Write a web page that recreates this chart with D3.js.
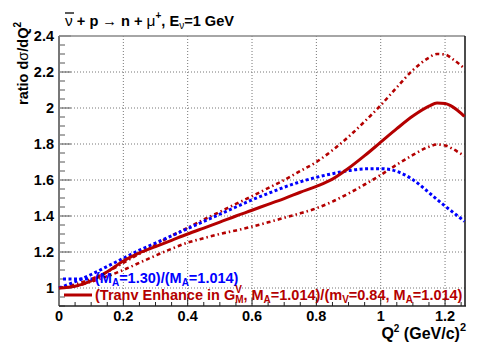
<!DOCTYPE html>
<html><head><meta charset="utf-8">
<script src="https://cdn.jsdelivr.net/npm/d3@7"></script>
<style>body{margin:0;background:#fff}svg{display:block}text{font-family:"Liberation Sans",Arial,sans-serif;font-weight:bold}</style>
</head><body><svg id="c" width="485" height="360"></svg>
<script>
const q2 = [0,0.05,0.1,0.15,0.2,0.25,0.3,0.35,0.4,0.45,0.5,0.55,0.6,0.65,0.7,0.75,0.8,0.85,0.9,0.95,1.0,1.05,1.1,1.15,1.175,1.2,1.225,1.25,1.26];
const central = [1.0,1.01,1.04,1.09,1.15,1.195,1.23,1.265,1.3,1.333,1.366,1.4,1.432,1.465,1.497,1.532,1.565,1.605,1.665,1.735,1.81,1.885,1.955,2.01,2.028,2.025,2.005,1.97,1.953];
const upper = [1.0,1.02,1.05,1.09,1.14,1.19,1.24,1.29,1.335,1.38,1.423,1.467,1.51,1.555,1.60,1.65,1.70,1.765,1.84,1.925,2.015,2.115,2.21,2.28,2.3,2.297,2.27,2.235,2.22];
const lower = [1.0,1.01,1.035,1.065,1.10,1.14,1.18,1.218,1.252,1.277,1.30,1.32,1.341,1.365,1.39,1.415,1.443,1.48,1.525,1.575,1.628,1.685,1.739,1.785,1.797,1.792,1.772,1.745,1.735];
const maRatio = [1.0,1.035,1.075,1.12,1.165,1.21,1.25,1.29,1.33,1.37,1.41,1.45,1.49,1.525,1.56,1.59,1.615,1.635,1.652,1.662,1.663,1.648,1.602,1.53,1.492,1.455,1.42,1.385,1.37];
const xTicks = [0,0.2,0.4,0.6,0.8,1,1.2];
const yTicks = [1,1.2,1.4,1.6,1.8,2,2.2,2.4];
const xTickLabels = ["0","0.2","0.4","0.6","0.8","1","1.2"];
const yTickLabels = ["1","1.2","1.4","1.6","1.8","2","2.2","2.4"];

const svg = d3.select("#c");
const L=59,R=465,T=36,B=306;
const x = d3.scaleLinear().domain([0,1.262]).range([L,R]);
const y = d3.scaleLinear().domain([0.9,2.4]).range([B,T]);
const RED="#b40000", BLUE="#0000ff";

// grid
svg.append("g").selectAll("line").data(xTicks.slice(1)).join("line")
  .attr("x1",d=>x(d)).attr("x2",d=>x(d)).attr("y1",T).attr("y2",B)
  .attr("stroke","#777").attr("stroke-width",1).attr("stroke-dasharray","1,2");
svg.append("g").selectAll("line").data(yTicks.slice(0,-1)).join("line")
  .attr("y1",d=>y(d)).attr("y2",d=>y(d)).attr("x1",L).attr("x2",R)
  .attr("stroke","#777").attr("stroke-width",1).attr("stroke-dasharray","1,2");

// minor/major ticks
const xMinor = d3.range(0,1.2601,0.05);
svg.append("g").selectAll("line").data(xMinor).join("line")
  .attr("x1",d=>x(d)).attr("x2",d=>x(d)).attr("y1",B)
  .attr("y2",(d,i)=> i%4===0 ? B-8 : B-4)
  .attr("stroke","#222").attr("stroke-width",1);
const yMinor = d3.range(0.9,2.4001,0.05);
svg.append("g").selectAll("line").data(yMinor).join("line")
  .attr("y1",d=>y(d)).attr("y2",d=>y(d)).attr("x1",L)
  .attr("x2",d=> Math.abs((d*10)%2 - 0) < 0.01 || Math.abs((d*10)%2-2)<0.01 ? L+12 : L+6)
  .attr("stroke","#555").attr("stroke-width",1);

// frame
svg.append("line").attr("x1",L).attr("x2",R).attr("y1",T).attr("y2",T).attr("stroke","#888").attr("stroke-width",1.5);
svg.append("line").attr("x1",R).attr("x2",R).attr("y1",T).attr("y2",B).attr("stroke","#111").attr("stroke-width",1.5);
svg.append("line").attr("x1",L).attr("x2",L).attr("y1",T).attr("y2",B).attr("stroke","#777").attr("stroke-width",2);
svg.append("line").attr("x1",L).attr("x2",R+1).attr("y1",B).attr("y2",B).attr("stroke","#222").attr("stroke-width",1.5);

// tick labels
svg.append("g").selectAll("text").data(xTicks).join("text")
  .attr("x",d=>x(d)).attr("y",321).attr("text-anchor","middle").attr("font-size",14.5)
  .text((d,i)=>xTickLabels[i]);
svg.append("g").selectAll("text").data(yTicks).join("text")
  .attr("x",54).attr("y",d=>y(d)+5).attr("text-anchor","end").attr("font-size",14.5)
  .text((d,i)=>yTickLabels[i]);

// curves
const line = d3.line().x((d,i)=>x(q2[i])).y(d=>y(d)).curve(d3.curveMonotoneX);
const plot = svg.append("g");
plot.append("path").attr("d",line(upper)).attr("fill","none").attr("stroke",RED).attr("stroke-width",2.6).attr("stroke-dasharray","4,3,1.5,3");
plot.append("path").attr("d",line(lower)).attr("fill","none").attr("stroke",RED).attr("stroke-width",2.6).attr("stroke-dasharray","4,3,1.5,3");
plot.append("path").attr("d",line(maRatio)).attr("fill","none").attr("stroke",BLUE).attr("stroke-width",3).attr("stroke-dasharray","3,2.5");
plot.append("path").attr("d",line(central)).attr("fill","none").attr("stroke",RED).attr("stroke-width",3);

// legend
svg.append("line").attr("x1",63).attr("x2",92).attr("y1",279).attr("y2",279).attr("stroke",BLUE).attr("stroke-width",3).attr("stroke-dasharray","3,2.5");
svg.append("line").attr("x1",64).attr("x2",92).attr("y1",295).attr("y2",295).attr("stroke",RED).attr("stroke-width",3);
const t1 = svg.append("text").attr("x",95).attr("y",283).attr("font-size",14.5).attr("fill",BLUE);
t1.append("tspan").text("(M");
t1.append("tspan").attr("font-size",10).attr("dy",2.5).text("A");
t1.append("tspan").attr("dy",-2.5).text("=1.30)/(M");
t1.append("tspan").attr("font-size",10).attr("dy",2.5).text("A");
t1.append("tspan").attr("dy",-2.5).text("=1.014)");
const t2 = svg.append("text").attr("x",95).attr("y",300).attr("font-size",14.5).attr("fill",RED);
t2.append("tspan").text("(Tranv Enhance in G");
t2.append("tspan").attr("font-size",10).attr("dy",3).text("M");
t2.append("tspan").attr("font-size",10).attr("dy",-10).attr("dx",-8.3).text("V");
t2.append("tspan").attr("dy",7).attr("dx",1.5).text(", M");
t2.append("tspan").attr("font-size",10).attr("dy",3).text("A");
t2.append("tspan").attr("dy",-3).text("=1.014)/(m");
t2.append("tspan").attr("font-size",10).attr("dy",3).text("V");
t2.append("tspan").attr("dy",-3).text("=0.84, M");
t2.append("tspan").attr("font-size",10).attr("dy",3).text("A");
t2.append("tspan").attr("dy",-3).text("=1.014)");

// title
const title = svg.append("text").attr("x",65).attr("y",26).attr("font-size",14.6);
title.append("tspan").attr("font-weight","normal").attr("font-size",15.5).text("ν");
title.append("tspan").text(" + p → n + ");
title.append("tspan").attr("font-weight","normal").attr("font-size",15.5).text("μ");
title.append("tspan").attr("font-size",10).attr("dy",-7).text("+");
title.append("tspan").attr("dy",7).text(", E");
title.append("tspan").attr("font-size",10).attr("dy",3).attr("font-weight","normal").text("ν");
title.append("tspan").attr("dy",-3).text("=1 GeV");
svg.append("line").attr("x1",65).attr("x2",74).attr("y1",13).attr("y2",13).attr("stroke","#000").attr("stroke-width",1.3);

// axis titles
const xt = svg.append("text").attr("x",466).attr("y",339).attr("text-anchor","end").attr("font-size",16);
xt.append("tspan").text("Q");
xt.append("tspan").attr("font-size",10).attr("dy",-7).text("2");
xt.append("tspan").attr("dy",7).text(" (GeV/c)");
xt.append("tspan").attr("font-size",11).attr("dy",-8).text("2");
const yt = svg.append("text").attr("transform","translate(28,22) rotate(-90)").attr("text-anchor","end").attr("font-size",14.5);
yt.append("tspan").text("ratio d");
yt.append("tspan").attr("font-weight","normal").text("σ");
yt.append("tspan").text("/dQ");
yt.append("tspan").attr("font-size",10).attr("dy",-7).text("2");
</script></body></html>
